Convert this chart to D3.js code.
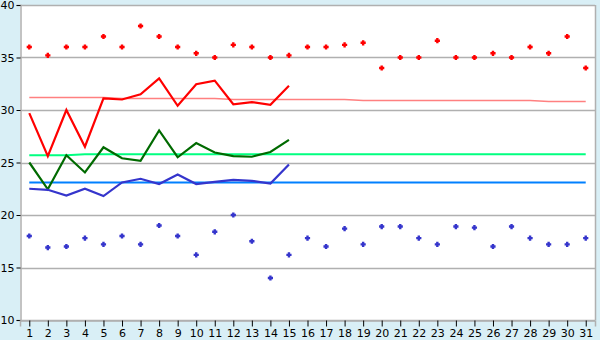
<!DOCTYPE html>
<html><head><meta charset="utf-8">
<script src="https://cdn.jsdelivr.net/npm/d3@7"></script>
<style>html,body{margin:0;padding:0;background:#d9eff6;}svg{display:block;}</style>
</head><body>
<svg id="c" width="600" height="340"></svg>
<script>
const days = d3.range(1, 32);
const yTicks = [10, 15, 20, 25, 30, 35, 40];
// daily maximum (points)
const maxPoints = [36, 35.2, 36, 36, 37, 36, 38, 37, 36, 35.4, 35, 36.2, 36, 35, 35.2, 36, 36, 36.2, 36.4, 34, 35, 35, 36.6, 35, 35, 35.4, 35, 36, 35.4, 37, 34];
// daily minimum (points)
const minPoints = [18, 16.9, 17, 17.8, 17.2, 18, 17.2, 19, 18, 16.2, 18.4, 20, 17.5, 14, 16.2, 17.8, 17, 18.7, 17.2, 18.9, 18.9, 17.8, 17.2, 18.9, 18.8, 17, 18.9, 17.8, 17.2, 17.2, 17.8];
// current month lines (days 1-15)
const maxLine = [29.7, 25.6, 30.0, 26.5, 31.1, 31.0, 31.5, 33.0, 30.4, 32.45, 32.8, 30.55, 30.75, 30.5, 32.3];
const meanLine = [25.0, 22.45, 25.7, 24.05, 26.45, 25.4, 25.15, 28.05, 25.5, 26.85, 25.95, 25.6, 25.55, 26.0, 27.15];
const minLine = [22.5, 22.4, 21.85, 22.5, 21.8, 23.1, 23.45, 22.95, 23.85, 22.95, 23.15, 23.35, 23.25, 23.0, 24.8];
// normals (days 1-31)
const maxNormal = [31.2,31.2,31.2,31.2,31.2,31.1,31.1,31.1,31.1,31.1,31.1,31.0,31.0,31.0,31.0,31.0,31.0,31.0,30.9,30.9,30.9,30.9,30.9,30.9,30.9,30.9,30.9,30.9,30.8,30.8,30.8];
const meanNormal = [25.7,25.7,25.7,25.78,25.78,25.78,25.78,25.78,25.78,25.78,25.78,25.78,25.78,25.78,25.78,25.78,25.78,25.78,25.78,25.78,25.78,25.78,25.78,25.78,25.78,25.78,25.78,25.78,25.78,25.78,25.78];
const minNormal = days.map(() => 23.1);

const svg = d3.select("#c");
const L = 20, R = 595, T = 5, B = 320;
const x = d3.scalePoint().domain(days).range([L, R]).padding(0.5);
const y = d3.scaleLinear().domain([10, 40]).range([B, T]);

svg.append("rect").attr("x", L).attr("y", T).attr("width", R - L).attr("height", B - T).attr("fill", "#fff");

// gridlines
svg.append("g").selectAll("line").data(yTicks).join("line")
  .attr("x1", L).attr("x2", R).attr("y1", d => Math.round(y(d)) + 0.5).attr("y2", d => Math.round(y(d)) + 0.5)
  .attr("stroke", "#b0b0b0").attr("stroke-width", 1.5);
svg.append("line").attr("x1", R + 0.5).attr("x2", R + 0.5).attr("y1", T).attr("y2", B).attr("stroke", "#b0b0b0").attr("stroke-width", 1.5);

// axes
const yAxis = svg.append("g").attr("transform", `translate(${L + 0.5},0)`)
  .call(d3.axisLeft(y).tickValues(yTicks).tickSize(4).tickPadding(2));
const xAxis = svg.append("g").attr("transform", `translate(0,${B + 0.5})`)
  .call(d3.axisBottom(x).tickSize(6).tickPadding(3));
[yAxis, xAxis].forEach(g => {
  g.select(".domain").attr("stroke", "#b0b0b0").attr("stroke-width", 1.5);
  g.selectAll(".tick line").attr("stroke", "#000");
  g.selectAll("text").attr("fill", "#000").attr("font-family", "DejaVu Sans, Verdana, sans-serif").attr("font-size", 11);
});

const line = d3.line().x((d, i) => x(days[i])).y(d => y(d));

function drawLine(data, color, w) {
  svg.append("path").datum(data).attr("d", line).attr("fill", "none")
    .attr("stroke", color).attr("stroke-width", w).attr("stroke-linejoin", "miter");
}
drawLine(maxNormal, "#ff8080", 1.5);
drawLine(meanNormal, "#00ff80", 2);
drawLine(minNormal, "#0080ff", 2);
drawLine(maxLine, "#ff0000", 2.2);
drawLine(meanLine, "#006a00", 2.2);
drawLine(minLine, "#3535cc", 2.2);

function plus(cx, cy) {
  const a = 1.2, b = 2.6;
  return `M${cx - a},${cy - b}H${cx + a}V${cy - a}H${cx + b}V${cy + a}H${cx + a}V${cy + b}H${cx - a}V${cy + a}H${cx - b}V${cy - a}H${cx - a}Z`;
}
svg.append("g").selectAll("path").data(maxPoints).join("path")
  .attr("d", (d, i) => plus(x(days[i]), y(d))).attr("fill", "#ff0000");
svg.append("g").selectAll("path").data(minPoints).join("path")
  .attr("d", (d, i) => plus(x(days[i]), y(d))).attr("fill", "#3535cc");
</script>
</body></html>
